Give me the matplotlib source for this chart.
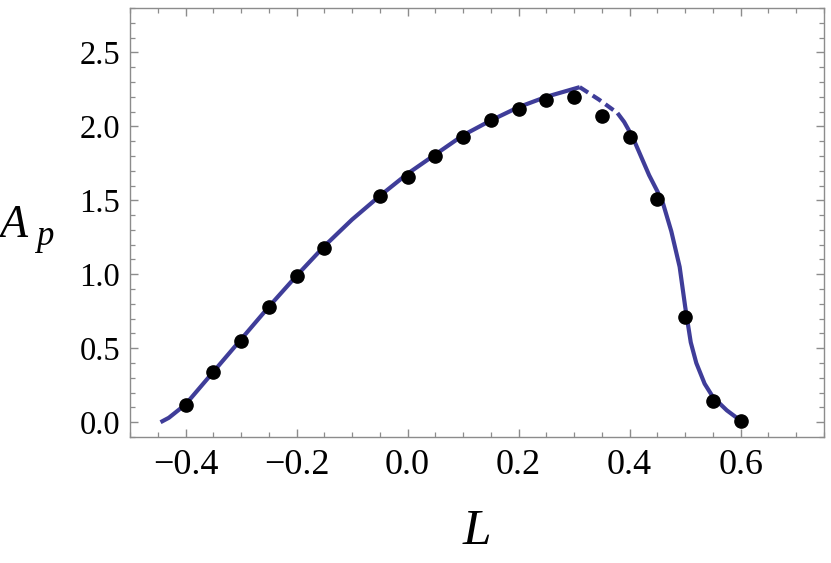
import matplotlib
matplotlib.use("Agg")
import matplotlib.pyplot as plt
from matplotlib.ticker import MultipleLocator, FixedLocator

# Data
dot_L = [-0.40, -0.35, -0.30, -0.25, -0.20, -0.15, -0.05, 0.00, 0.05, 0.10,
         0.15, 0.20, 0.25, 0.30, 0.35, 0.40, 0.45, 0.50, 0.55, 0.60]
dot_A = [0.115, 0.34, 0.55, 0.78, 0.99, 1.18, 1.53, 1.66, 1.80, 1.93,
         2.04, 2.12, 2.18, 2.20, 2.07, 1.93, 1.51, 0.71, 0.14, 0.01]

solid1_L = [-0.445, -0.43, -0.415, -0.40, -0.375, -0.35, -0.30, -0.25, -0.20, -0.15,
            -0.10, -0.05, 0.00, 0.05, 0.10, 0.15, 0.20, 0.25, 0.31]
solid1_A = [0.00, 0.03, 0.075, 0.12, 0.23, 0.34, 0.56, 0.78, 0.99, 1.19,
            1.37, 1.53, 1.68, 1.81, 1.94, 2.04, 2.13, 2.20, 2.265]

dashed_L = [0.31, 0.345, 0.378]
dashed_A = [2.265, 2.18, 2.09]

solid2_L = [0.378, 0.39, 0.405, 0.42, 0.435, 0.45, 0.46, 0.475, 0.49, 0.50,
            0.51, 0.52, 0.535, 0.55, 0.575, 0.60]
solid2_A = [2.09, 2.03, 1.93, 1.80, 1.67, 1.56, 1.48, 1.29, 1.05, 0.78,
            0.54, 0.40, 0.26, 0.17, 0.08, 0.01]

x_major = [-0.4, -0.2, 0.0, 0.2, 0.4, 0.6]
y_major = [0.0, 0.5, 1.0, 1.5, 2.0, 2.5]

serif = ["Liberation Serif", "DejaVu Serif"]
plt.rcParams["font.family"] = serif
plt.rcParams["mathtext.fontset"] = "custom"
plt.rcParams["mathtext.it"] = "Liberation Serif:italic"
plt.rcParams["mathtext.rm"] = "Liberation Serif"

fig = plt.figure(figsize=(8.31, 5.63), dpi=100)
ax = fig.add_axes([130 / 831, 1 - 437 / 563, (824 - 130) / 831, (437 - 8) / 563])

line_color = "#3F3D99"
ax.plot(solid1_L, solid1_A, color=line_color, lw=3.0, solid_capstyle="butt",
        solid_joinstyle="round", zorder=2)
ax.plot(dashed_L, dashed_A, color=line_color, lw=3.0, linestyle=(0, (2.4, 1.3)),
        dash_capstyle="butt", zorder=2)
ax.plot(solid2_L, solid2_A, color=line_color, lw=3.0, solid_capstyle="butt",
        solid_joinstyle="round", zorder=2)
ax.plot(dot_L, dot_A, "o", color="black", markersize=9.5, zorder=3)

ax.set_xlim(-0.5, 0.75)
ax.set_ylim(-0.1, 2.8)

ax.xaxis.set_major_locator(FixedLocator(x_major))
ax.xaxis.set_minor_locator(MultipleLocator(0.05))
ax.yaxis.set_major_locator(FixedLocator(y_major))
ax.yaxis.set_minor_locator(MultipleLocator(0.1))
ax.set_xticklabels([f"{v:.1f}".replace("-", "\u2212") for v in x_major])
ax.set_yticklabels([f"{v:.1f}" for v in y_major])

frame_color = "#8c8c8c"
for s in ax.spines.values():
    s.set_color(frame_color)
    s.set_linewidth(1.0)

ax.tick_params(which="both", direction="in", top=True, right=True, color=frame_color,
               labelcolor="black")
ax.tick_params(which="major", length=6, width=1.0)
ax.tick_params(which="minor", length=3.5, width=0.9)
ax.tick_params(axis="x", which="major", pad=9, labelsize=26)
ax.tick_params(axis="y", which="major", pad=7, labelsize=23.5)

fig.text(477 / 831, 1 - 532 / 563, "L", fontsize=37, fontstyle="italic",
         ha="center", va="center")
fig.text(0 / 831, 1 - 237 / 563, "A", fontsize=33, fontstyle="italic",
         ha="left", va="baseline")
fig.text(36 / 831, 1 - 245 / 563, "p", fontsize=25, fontstyle="italic",
         ha="left", va="baseline")

fig.savefig("out.png", dpi=100)
